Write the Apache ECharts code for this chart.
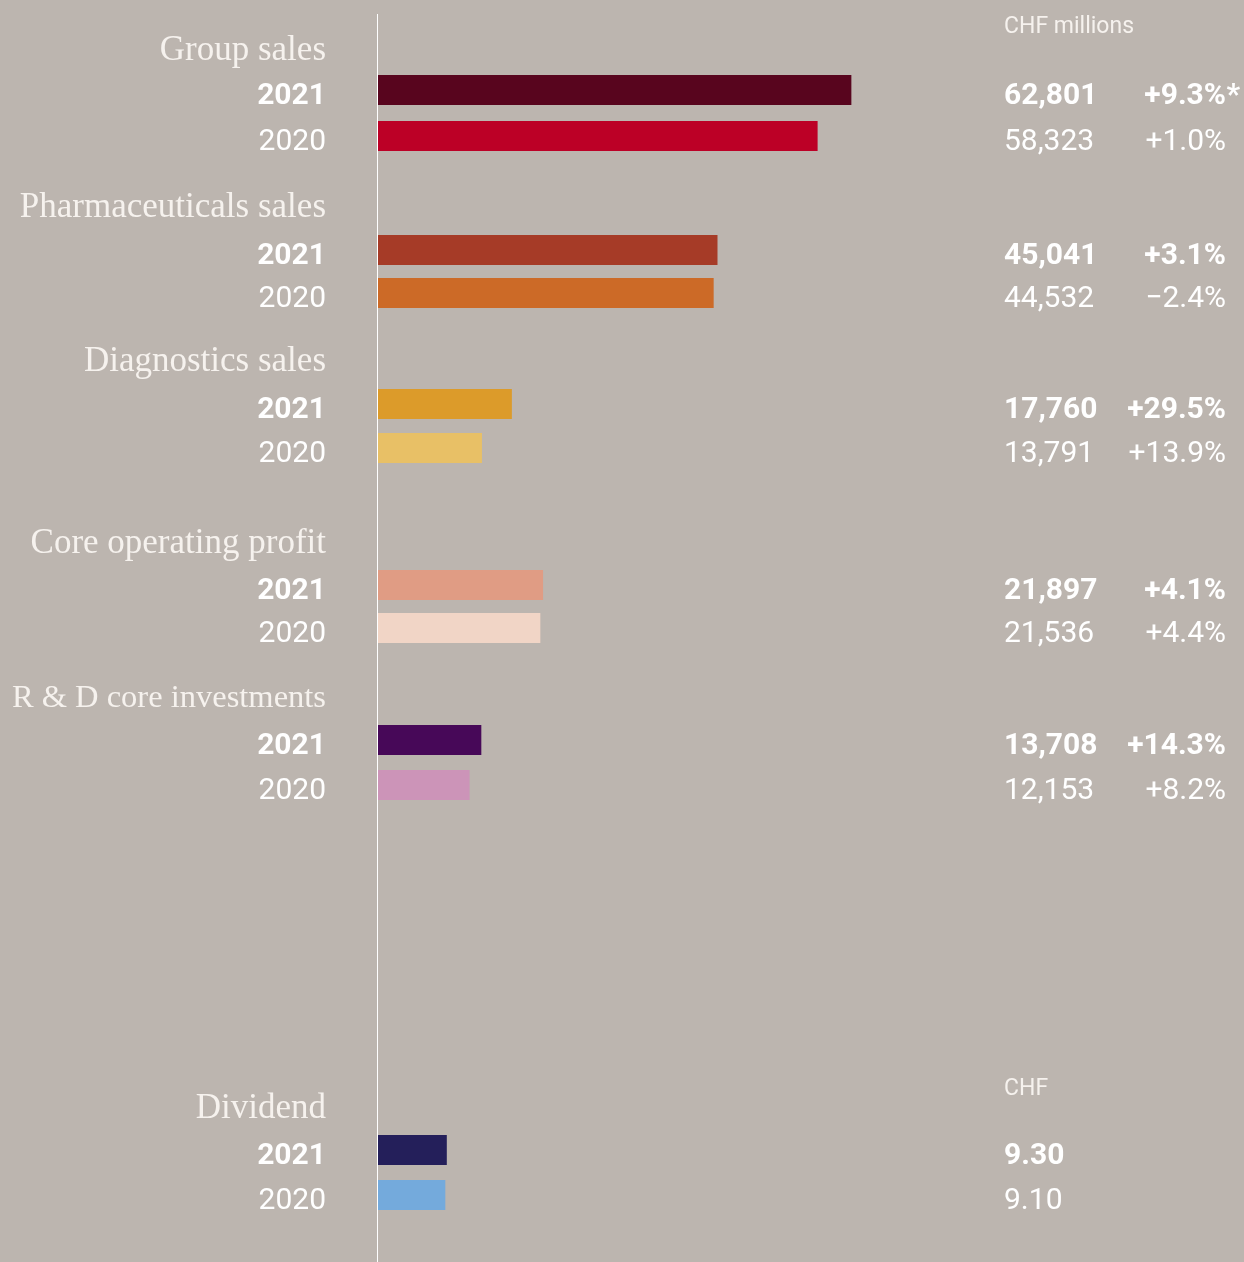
<!DOCTYPE html>
<html><head><meta charset="utf-8">
<script src="https://cdn.jsdelivr.net/npm/echarts@6/dist/echarts.min.js"></script>
<style>html,body{margin:0;padding:0;background:#bcb5af}#c{width:1244px;height:1262px}</style>
</head><body><div id="c"></div>
<script>
// ---------- data ----------
const groupTitles = ['Group sales', 'Pharmaceuticals sales', 'Diagnostics sales', 'Core operating profit', 'R & D core investments', 'Dividend'];
const years = ['2021', '2020'];
const values2021 = [62801, 45041, 17760, 21897, 13708, 9.30];
const values2020 = [58323, 44532, 13791, 21536, 12153, 9.10];
const change2021 = ['+9.3%', '+3.1%', '+29.5%', '+4.1%', '+14.3%', ''];
const change2020 = ['+1.0%', '\u22122.4%', '+13.9%', '+4.4%', '+8.2%', ''];
const footnoteMarks = ['*', '', '', '', '', ''];
const unitHeaders = ['CHF millions', 'CHF'];
const isDividend = [false, false, false, false, false, true];

// ---------- styles / layout ----------
const colors2021 = ['#58051e', '#a63b27', '#dc9b2a', '#e09c84', '#470858', '#241f5a'];
const colors2020 = ['#bc0026', '#cc6a27', '#e8c066', '#f1d5c6', '#cc94b8', '#74aadc'];
const barCenters = [90, 250, 404, 585, 740, 1150];
const slotSizes = [46, 43, 44, 43, 45, 45];
const titleShift = [7, 0.5, 1.5, 1.5, 3.5, 3.5];
const titleSizes = [35, 35, 35, 35, 32.5, 35];
const yearShift = 6;
const plotLeft = 378, plotWidth = 603;
const mainMax = 80000, dividendMax = 81.5;

const sans = 'Roboto';
const serif = 'Liberation Serif';
function pad(shift) { return shift >= 0 ? [2 * shift, 0, 0, 0] : [0, 0, -2 * shift, 0]; }
function fmtVal(v, div) { return div ? v.toFixed(2) : v.toLocaleString('en-US'); }

const grids = [], xAxes = [], yAxes = [], series = [];
groupTitles.forEach(function (title, i) {
  const s = slotSizes[i];
  grids.push({ left: plotLeft, width: plotWidth, top: barCenters[i] - 1.5 * s, height: 3 * s, containLabel: false, outerBoundsMode: 'none' });
  xAxes.push({ type: 'value', gridIndex: i, min: 0, max: isDividend[i] ? dividendMax : mainMax, show: false });
  const common = { type: 'category', gridIndex: i, inverse: true, axisLine: { show: false }, axisTick: { show: false }, splitLine: { show: false } };
  // left labels
  yAxes.push(Object.assign({}, common, {
    position: 'left', data: [title, years[0], years[1]],
    axisLabel: {
      interval: 0, margin: 52, align: 'right',
      formatter: function (v, idx) { return idx === 0 ? '{t|' + v + '}' : (idx === 1 ? '{yb|' + v + '}' : '{y|' + v + '}'); },
      rich: {
        t: { fontFamily: serif, fontSize: titleSizes[i], color: '#f6f2ee', padding: pad(titleShift[i]) },
        yb: { fontFamily: sans, fontSize: 30, fontWeight: 'bold', color: '#ffffff', padding: pad(yearShift) },
        y: { fontFamily: sans, fontSize: 30, fontWeight: 'normal', color: '#ffffff', padding: pad(yearShift) }
      }
    }
  }));
  // right value labels
  const valCats = ['', fmtVal(values2021[i], isDividend[i]), fmtVal(values2020[i], isDividend[i])];
  yAxes.push(Object.assign({}, common, {
    position: 'right', data: valCats,
    axisLabel: {
      interval: 0, margin: 1004 - plotLeft - plotWidth, align: 'left',
      formatter: function (v, idx) { return idx === 0 ? '' : (idx === 1 ? '{vb|' + v + '}' : '{v|' + v + '}'); },
      rich: {
        vb: { fontFamily: sans, fontSize: 30, fontWeight: 'bold', color: '#ffffff', padding: pad(yearShift) },
        v: { fontFamily: sans, fontSize: 30, fontWeight: 'normal', color: '#ffffff', padding: pad(yearShift) }
      }
    }
  }));
  // right change labels
  if (!isDividend[i]) {
    const pctCats = ['', change2021[i], change2020[i]];
    yAxes.push(Object.assign({}, common, {
      position: 'right', data: pctCats,
      axisLabel: {
        interval: 0, margin: 1240 - plotLeft - plotWidth, align: 'right',
        formatter: function (v, idx) {
          if (idx === 0) return '';
          const mark = idx === 1 && footnoteMarks[i] ? footnoteMarks[i] : ' ';
          return (idx === 1 ? '{pb|' + v + '}' : '{p|' + v + '}') + '{s|' + mark + '}';
        },
        rich: {
          pb: { fontFamily: sans, fontSize: 30, fontWeight: 'bold', color: '#ffffff', padding: pad(yearShift) },
          p: { fontFamily: sans, fontSize: 30, fontWeight: 'normal', color: '#ffffff', padding: pad(yearShift) },
          s: { fontFamily: sans, fontSize: 30, fontWeight: 'bold', color: '#ffffff', width: 14, padding: pad(yearShift) }
        }
      }
    }));
  }
  const yIdx = yAxes.length - (isDividend[i] ? 2 : 3);
  series.push({
    type: 'bar', xAxisIndex: i, yAxisIndex: yIdx, barWidth: 30, silent: true,
    data: ['-', { value: values2021[i], itemStyle: { color: colors2021[i] } }, { value: values2020[i], itemStyle: { color: colors2020[i] } }]
  });
});

const chart = echarts.init(document.getElementById('c'), null, { renderer: 'canvas' });
chart.setOption({
  backgroundColor: '#bcb5af',
  animation: false,
  grid: grids, xAxis: xAxes, yAxis: yAxes, series: series,
  graphic: [
    { type: 'line', shape: { x1: 377.5, y1: 14, x2: 377.5, y2: 1262 }, style: { stroke: '#ffffff', lineWidth: 1 }, z: 10 },
    { type: 'text', style: { x: 1004, y: 27, text: unitHeaders[0], font: '23px Roboto', fill: '#f6f2ee', verticalAlign: 'middle', align: 'left' } },
    { type: 'text', style: { x: 1004, y: 1089, text: unitHeaders[1], font: '23px Roboto', fill: '#f6f2ee', verticalAlign: 'middle', align: 'left' } }
  ]
});
</script>
</body></html>
